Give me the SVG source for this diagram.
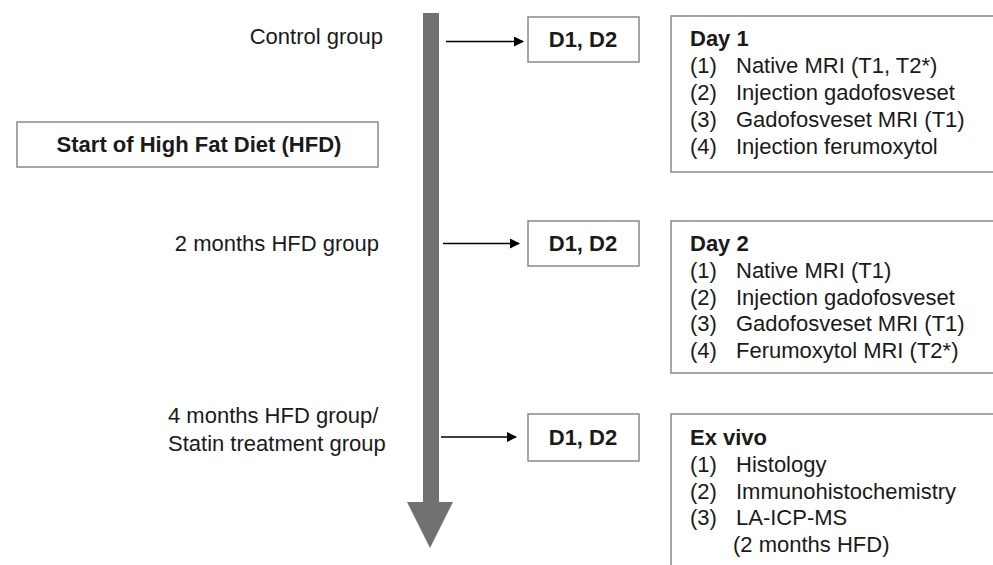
<svg xmlns="http://www.w3.org/2000/svg" width="993" height="565" viewBox="0 0 993 565">
<style>
text{font-family:"Liberation Sans",Arial,sans-serif;font-size:22px;fill:#1a1a1a}
.b{font-weight:bold}
.box{fill:#fff;stroke:#8a8a8a;stroke-width:1.5}
.conn{stroke:#000;stroke-width:1.3;fill:none}
</style>
<defs>
<marker id="ah" markerWidth="10" markerHeight="10" refX="9" refY="5" orient="auto" markerUnits="userSpaceOnUse" viewBox="0 0 10 10">
<path d="M0,0 L10,5 L0,10 z" fill="#000"/>
</marker>
</defs>
<rect width="993" height="565" fill="#fff"/>
<g id="timeline">
<path d="M423,13 L439,13 L439,502 L453,502 L430,548 L407,502 L423,502 z" fill="#737070"/>
</g>
<g id="connectors">
<line class="conn" x1="446" y1="41.5" x2="523" y2="41.5" marker-end="url(#ah)"/>
<line class="conn" x1="443" y1="243.5" x2="519" y2="243.5" marker-end="url(#ah)"/>
<line class="conn" x1="441" y1="437" x2="516" y2="437" marker-end="url(#ah)"/>
</g>
<g id="label-control"><text x="383" y="44" text-anchor="end">Control group</text></g>
<g id="start-hfd">
<rect class="box" x="17" y="122" width="361" height="45"/>
<text class="b" x="199" y="152" text-anchor="middle">Start of High Fat Diet (HFD)</text>
</g>
<g id="label-2m"><text x="379" y="251" text-anchor="end">2 months HFD group</text></g>
<g id="label-4m">
<text x="168" y="423">4 months HFD group/</text>
<text x="168" y="451">Statin treatment group</text>
</g>
<g id="d1">
<rect class="box" x="528" y="17" width="111" height="45"/>
<text class="b" x="583" y="47" text-anchor="middle">D1, D2</text>
</g>
<g id="d2">
<rect class="box" x="528" y="221" width="111" height="45"/>
<text class="b" x="583" y="251" text-anchor="middle">D1, D2</text>
</g>
<g id="d3">
<rect class="box" x="528" y="414" width="111" height="47"/>
<text class="b" x="583" y="445" text-anchor="middle">D1, D2</text>
</g>
<g id="day1">
<rect class="box" x="671" y="16" width="340" height="156"/>
<text class="b" x="690" y="46">Day 1</text>
<text x="690" y="73">(1)</text><text x="736" y="73">Native MRI (T1, T2*)</text>
<text x="690" y="100">(2)</text><text x="736" y="100">Injection gadofosveset</text>
<text x="690" y="127">(3)</text><text x="736" y="127">Gadofosveset MRI (T1)</text>
<text x="690" y="154">(4)</text><text x="736" y="154">Injection ferumoxytol</text>
</g>
<g id="day2">
<rect class="box" x="671" y="221" width="340" height="152"/>
<text class="b" x="690" y="251">Day 2</text>
<text x="690" y="278">(1)</text><text x="736" y="278">Native MRI (T1)</text>
<text x="690" y="305">(2)</text><text x="736" y="305">Injection gadofosveset</text>
<text x="690" y="331">(3)</text><text x="736" y="331">Gadofosveset MRI (T1)</text>
<text x="690" y="358">(4)</text><text x="736" y="358">Ferumoxytol MRI (T2*)</text>
</g>
<g id="exvivo">
<rect class="box" x="671" y="414" width="340" height="170"/>
<text class="b" x="690" y="445">Ex vivo</text>
<text x="690" y="472">(1)</text><text x="736" y="472">Histology</text>
<text x="690" y="499">(2)</text><text x="736" y="499">Immunohistochemistry</text>
<text x="690" y="525">(3)</text><text x="736" y="525">LA-ICP-MS</text>
<text x="733" y="552">(2 months HFD)</text>
</g>
</svg>
